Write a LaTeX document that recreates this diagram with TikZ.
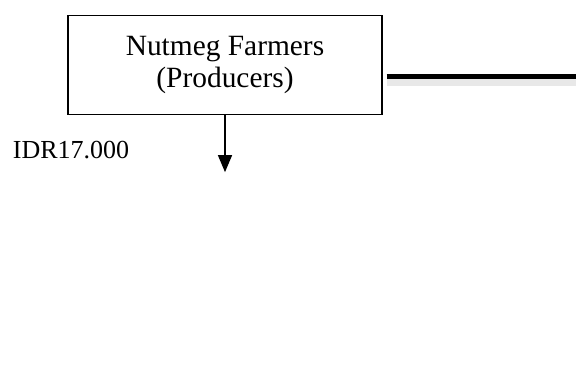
\documentclass[tikz,border=0pt]{standalone}
\usepackage{fontspec}
\setmainfont{Liberation Serif}
\usetikzlibrary{positioning,arrows.meta,calc}
\definecolor{nmshadow}{RGB}{232,232,232}
\tikzset{
  nm/.style={font=\fontsize{26}{31}\selectfont, text=black},
  nmbox/.style={
    nm, font=\fontsize{29.4}{32}\selectfont, draw=black, fill=white, line width=1.3pt,
    align=center, inner sep=4pt, minimum width=314pt, minimum height=99pt
  },
  nmarr/.style={-{Triangle[length=17pt,width=14pt]}, line width=1.3pt, draw=black},
  nmthick/.style={line width=5pt, draw=black},
  nmthickshade/.style={line width=7pt, draw=nmshadow},
  nmlbl/.style={nm, inner sep=0pt},
}
\begin{document}
\begin{tikzpicture}[nm, x=1pt, y=1pt]
    \useasboundingbox (0,0) rectangle (576,-367);

    % Produsen
    \node[nmbox] (farmers) at (225,-65) {Nutmeg Farmers\\(Producers)};

    % Harga
    \coordinate[below=57pt of farmers.south] (pricetip);
    \node[nmlbl] (price) at (71,-150) {IDR17.000};

    % Jalur ke kanan
    \coordinate (chainstart) at ($(farmers.east)+(4,-11.5)$);
    \coordinate (chainend) at (576,-76.5);

    % Koneksi
    \draw[nmthickshade] ([yshift=-6pt]chainstart) -- ([yshift=-6pt]chainend);
    \draw[nmthick] (chainstart) -- (chainend);
    \draw[nmarr] (farmers.south) -- (pricetip);
  \end{tikzpicture}
\end{document}
